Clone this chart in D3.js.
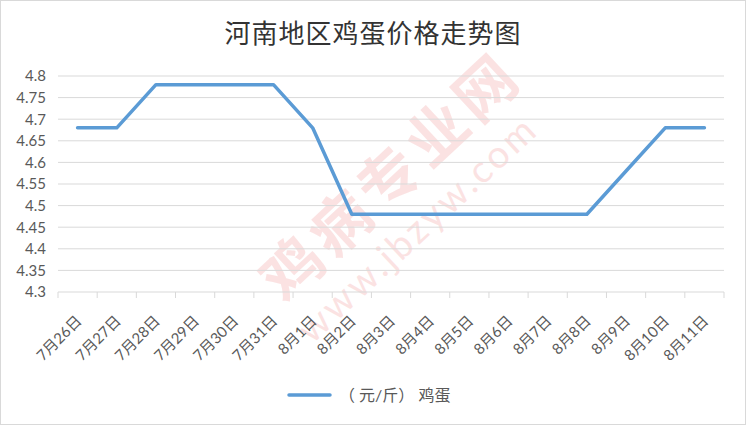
<!DOCTYPE html>
<html>
<head>
<meta charset="utf-8">
<script src="https://cdn.jsdelivr.net/npm/d3@7"></script>
<style>
  body { margin: 0; background: #fff; }
  svg { display: block; }
</style>
</head>
<body>
<svg id="chart" width="746" height="425"></svg>
<script>
var categories = ['7月26日', '7月27日', '7月28日', '7月29日', '7月30日', '7月31日', '8月1日', '8月2日',
  '8月3日', '8月4日', '8月5日', '8月6日', '8月7日', '8月8日', '8月9日', '8月10日', '8月11日'];
var eggPrice = [4.68, 4.68, 4.78, 4.78, 4.78, 4.78, 4.68, 4.48,
  4.48, 4.48, 4.48, 4.48, 4.48, 4.48, 4.58, 4.68, 4.68];
var yTicks = [4.3, 4.35, 4.4, 4.45, 4.5, 4.55, 4.6, 4.65, 4.7, 4.75, 4.8];
var seriesName = '（ 元/斤） 鸡蛋';
var titleText = '河南地区鸡蛋价格走势图';

var plot = { left: 58, right: 724, top: 76, bottom: 292 };
var labelFont = 'Lato, "Noto Sans CJK SC", sans-serif';

var svg = d3.select('#chart');

// outer border
svg.append('rect')
  .attr('x', 0.5).attr('y', 0.5)
  .attr('width', 745).attr('height', 424)
  .attr('fill', '#fff')
  .attr('stroke', '#d9d9d9');

// faint watermark
var wm = svg.append('g').attr('opacity', 0.3);
wm.append('text')
  .attr('transform', 'translate(285, 305) rotate(-43)')
  .attr('font-family', '"Noto Sans CJK SC", sans-serif')
  .attr('font-weight', 'bold')
  .attr('font-size', 60)
  .attr('fill', '#f3a3a3')
  .attr('letter-spacing', 6)
  .text('鸡病专业网');
wm.append('text')
  .attr('transform', 'translate(312, 345) rotate(-43)')
  .attr('font-family', 'Lato, sans-serif')
  .attr('font-size', 38)
  .attr('fill', '#f3a3a3')
  .attr('letter-spacing', 3)
  .text('www.jbzyw.com');

var xScale = d3.scaleBand()
  .domain(categories)
  .range([plot.left, plot.right]);

var yScale = d3.scaleLinear()
  .domain([4.3, 4.8])
  .range([plot.bottom, plot.top]);

// horizontal gridlines
svg.append('g')
  .selectAll('line')
  .data(yTicks)
  .enter()
  .append('line')
  .attr('x1', plot.left)
  .attr('x2', plot.right)
  .attr('y1', function (d) { return yScale(d); })
  .attr('y2', function (d) { return yScale(d); })
  .attr('stroke', '#d9d9d9')
  .attr('stroke-width', 1);

// y axis labels
var yAxis = d3.axisLeft(yScale)
  .tickValues(yTicks)
  .tickSize(0)
  .tickPadding(12)
  .tickFormat(function (d) { return +d.toFixed(2) + ''; });
var gy = svg.append('g')
  .attr('transform', 'translate(' + plot.left + ',0)')
  .call(yAxis);
gy.select('.domain').remove();
gy.selectAll('text')
  .attr('font-family', labelFont)
  .attr('font-size', 15)
  .attr('fill', '#595959');

// x axis tick marks at category boundaries
var bounds = categories.map(function (c) { return xScale(c); }).concat([plot.right]);
svg.append('g')
  .selectAll('line')
  .data(bounds)
  .enter()
  .append('line')
  .attr('x1', function (d) { return d; })
  .attr('x2', function (d) { return d; })
  .attr('y1', plot.bottom)
  .attr('y2', plot.bottom + 6)
  .attr('stroke', '#d9d9d9');

// x labels
svg.append('g')
  .selectAll('text')
  .data(categories)
  .enter()
  .append('text')
  .attr('transform', function (d) {
    return 'translate(' + (xScale(d) + xScale.bandwidth() / 2 + 5) + ',' + (plot.bottom + 30) + ') rotate(-45)';
  })
  .attr('text-anchor', 'end')
  .attr('font-family', labelFont)
  .attr('font-size', 15)
  .attr('fill', '#595959')
  .text(function (d) { return d; });

// price line
var line = d3.line()
  .x(function (d, i) { return xScale(categories[i]) + xScale.bandwidth() / 2; })
  .y(function (d) { return yScale(d); });

svg.append('path')
  .datum(eggPrice)
  .attr('d', line)
  .attr('fill', 'none')
  .attr('stroke', '#5b9bd5')
  .attr('stroke-width', 3.5)
  .attr('stroke-linecap', 'round')
  .attr('stroke-linejoin', 'round');

// title
svg.append('text')
  .attr('x', 373)
  .attr('y', 43)
  .attr('text-anchor', 'middle')
  .attr('font-family', '"Noto Sans CJK SC", sans-serif')
  .attr('font-size', 26)
  .attr('fill', '#333')
  .attr('letter-spacing', 1)
  .text(titleText);

// legend
svg.append('line')
  .attr('x1', 289).attr('x2', 330)
  .attr('y1', 395).attr('y2', 395)
  .attr('stroke', '#5b9bd5')
  .attr('stroke-width', 3.5)
  .attr('stroke-linecap', 'round');
svg.append('text')
  .attr('x', 339)
  .attr('y', 401)
  .attr('font-family', labelFont)
  .attr('font-size', 16)
  .attr('fill', '#595959')
  .text(seriesName);
</script>
</body>
</html>
